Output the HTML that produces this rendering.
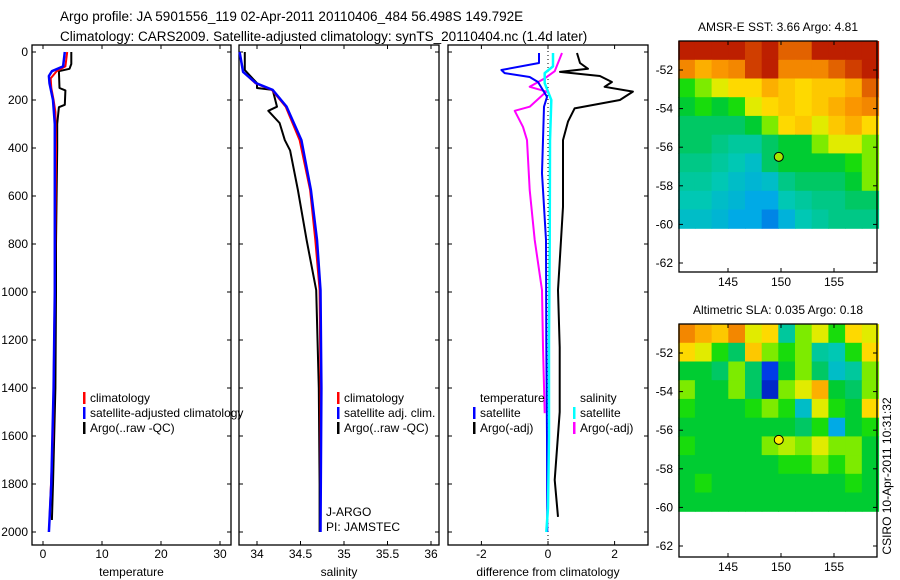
<!DOCTYPE html>
<html><head><meta charset="utf-8"><style>
body{margin:0;background:#fff;}
svg{display:block;font-family:"Liberation Sans",sans-serif;}
</style></head><body>
<svg id="fig" width="900" height="580" viewBox="0 0 900 580" xmlns="http://www.w3.org/2000/svg">
<text x="60" y="21" font-size="13.5">Argo profile: JA 5901556_119 02-Apr-2011 20110406_484 56.498S 149.792E</text>
<text x="60" y="41" font-size="13.5">Climatology: CARS2009. Satellite-adjusted climatology: synTS_20110404.nc (1.4d later)</text>
<g id="plots"></g>
</svg>
<script>
// ---- depth axis data ----
const depthTicks=[0,200,400,600,800,1000,1200,1400,1600,1800,2000];
// temperature panel
const tTicks=[0,10,20,30];
const tClimD=[0,60,80,110,150,200,250,400,1000,1600,1950];
const tClimV=[4.1,3.8,2.3,1.3,1.4,1.8,2.1,2.2,2.0,1.7,1.1];
const tSatD=[0,60,80,100,130,200,300,1000,1400,1800,2000];
const tSatV=[3.7,3.4,1.5,1.0,1.1,1.7,2.0,2.0,1.8,1.4,1.0];
const tArgoD=[0,50,70,80,150,160,220,230,300,400,800,1000,1400,1600,1800,1950];
const tArgoV=[4.8,4.8,4.5,2.7,2.8,3.8,3.7,2.7,2.4,2.4,2.2,2.2,2.1,1.9,1.7,1.5];
// salinity panel
const sTicks=[34,34.5,35,35.5,36];
const sTickLabels=["34","34.5","35","35.5","36"];
const sClimD=[0,83,130,158,228,367,575,783,992,1400,1950];
const sClimV=[33.80,33.84,33.98,34.17,34.33,34.49,34.61,34.67,34.72,34.73,34.73];
const sSatD=[0,83,130,158,228,367,575,783,992,1400,2000];
const sSatV=[33.80,33.84,33.99,34.18,34.34,34.51,34.62,34.69,34.73,34.74,34.73];
const sArgoD=[0,75,130,150,158,228,245,296,367,410,575,783,992,1400,1800,2000];
const sArgoV=[33.86,33.86,34.0,34.0,34.18,34.23,34.13,34.26,34.32,34.38,34.47,34.57,34.68,34.71,34.72,34.72];
// difference panel
const dTicks=[-2,0,2];
const dTSatD=[4,46,75,88,104,125,187,228,505,783,1200,1600,2000];
const dTSatV=[-0.27,-0.27,-1.4,-1.3,-0.55,-0.3,-0.03,-0.12,-0.18,-0.06,-0.05,-0.03,-0.02];
const dSSatD=[4,60,88,130,200,370,800,1200,1600,1900,2000];
const dSSatV=[0.15,0.15,-0.1,-0.1,0.1,0.06,0.05,0.03,0.03,0.0,-0.05];
const dSArgoD=[4,46,80,110,145,165,228,245,312,367,575,783,992,1230,1505];
const dSArgoV=[0.42,0.3,0.2,-0.1,-0.55,-0.05,-0.55,-1.0,-0.75,-0.63,-0.55,-0.4,-0.18,-0.15,-0.1];
const dTArgoD=[4,46,70,83,100,125,145,165,200,235,290,367,645,992,1230,1500,1783,1937];
const dTArgoV=[0.87,0.96,1.2,0.36,1.56,1.92,1.7,2.55,2.16,0.8,0.6,0.45,0.45,0.3,0.35,0.35,0.2,0.3];
// maps
const lonTicks=[145,150,155];
const latTicks=[-52,-54,-56,-58,-60,-62];
const sstGrid=[
[0.95,0.95,0.95,0.95,0.9,0.95,0.85,0.85,0.95,0.95,0.95,0.95],
[0.8,0.75,0.78,0.8,0.9,0.95,0.8,0.8,0.8,0.85,0.9,0.95],
[0.55,0.6,0.65,0.7,0.7,0.75,0.72,0.7,0.72,0.72,0.75,0.85],
[0.5,0.55,0.5,0.55,0.65,0.7,0.72,0.7,0.72,0.75,0.78,0.8],
[0.45,0.45,0.45,0.45,0.5,0.6,0.7,0.72,0.65,0.72,0.75,0.7],
[0.45,0.45,0.42,0.4,0.4,0.45,0.5,0.5,0.6,0.65,0.65,0.6],
[0.42,0.42,0.4,0.38,0.35,0.45,0.5,0.5,0.5,0.5,0.55,0.6],
[0.4,0.4,0.38,0.35,0.33,0.35,0.42,0.45,0.45,0.45,0.5,0.6],
[0.38,0.38,0.35,0.33,0.3,0.3,0.38,0.4,0.42,0.42,0.45,0.45],
[0.35,0.35,0.33,0.3,0.3,0.25,0.32,0.38,0.4,0.42,0.42,0.42]];
const slaGrid=[
[0.8,0.75,0.72,0.8,0.65,0.7,0.4,0.6,0.65,0.55,0.7,0.65],
[0.7,0.65,0.55,0.45,0.72,0.6,0.55,0.6,0.4,0.38,0.55,0.7],
[0.5,0.5,0.45,0.6,0.45,0.15,0.5,0.6,0.45,0.35,0.4,0.6],
[0.6,0.5,0.5,0.6,0.45,0.1,0.6,0.65,0.75,0.5,0.45,0.6],
[0.55,0.5,0.5,0.5,0.55,0.6,0.55,0.35,0.65,0.55,0.5,0.7],
[0.5,0.5,0.5,0.5,0.5,0.5,0.5,0.45,0.55,0.3,0.5,0.55],
[0.55,0.5,0.5,0.5,0.5,0.6,0.62,0.6,0.65,0.6,0.6,0.5],
[0.5,0.5,0.5,0.5,0.5,0.5,0.55,0.55,0.6,0.55,0.6,0.5],
[0.5,0.55,0.5,0.5,0.5,0.5,0.5,0.5,0.5,0.5,0.55,0.5],
[0.5,0.5,0.5,0.5,0.5,0.5,0.5,0.5,0.5,0.5,0.5,0.5]];
const argoLon=149.79, argoLat=-56.5;

const NS="http://www.w3.org/2000/svg";
const root=document.getElementById('plots');
function mk(tag,attrs,parent){const e=document.createElementNS(NS,tag);for(const k in attrs)e.setAttribute(k,attrs[k]);(parent||root).appendChild(e);return e;}
const yD=d=>52+0.24*d;
const PT=55, PB=545;

function panel(name,x0,x1,xs,ticks,labels,xlabel,showY){
  const g=mk('g',{});
  
  
  const r=mk('rect',{x:x0,y:PT-10,width:x1-x0,height:PB-PT+10,fill:'none',stroke:'#000','stroke-width':1.3},g);
  
  
  ticks.forEach((t,i)=>{const x=xs(t);
    mk('line',{x1:x,x2:x,y1:PT-10,y2:PT-6,stroke:'#000'},g);
    mk('line',{x1:x,x2:x,y1:PB,y2:PB-4,stroke:'#000'},g);
    const tx=mk('text',{x:x,y:558,'font-size':12,'text-anchor':'middle'},g);
    tx.textContent=labels[i];
    
    
  });
  depthTicks.forEach(d=>{const y=yD(d);
    mk('line',{x1:x0,x2:x0+4,y1:y,y2:y,stroke:'#000'},g);
    mk('line',{x1:x1,x2:x1-4,y1:y,y2:y,stroke:'#000'},g);
    if(showY){const t=mk('text',{x:28,y:y+4,'font-size':12,'text-anchor':'end'},g);t.textContent=d;
      
      }
  });
  const xl=mk('text',{x:(x0+x1)/2,y:576,'font-size':12,'text-anchor':'middle'},g);
  xl.textContent=xlabel;
  
  
  return g;
}
function line(g,D,V,xs,color,w,name){
  const pts=D.map((d,i)=>xs(V[i]).toFixed(1)+','+yD(d).toFixed(1)).join(' ');
  const p=mk('polyline',{points:pts,fill:'none',stroke:color,'stroke-width':w,'stroke-linejoin':'round'},g);
  
  
}
function legend(g,x,y,items){
  items.forEach((it,i)=>{
    if(it[0]) mk('rect',{x:x,y:y+i*15-10,width:2.5,height:12,fill:it[0]},g);
    const t=mk('text',{x:x+7,y:y+i*15,'font-size':12},g);t.textContent=it[1];
    
    
  });
}
// temperature
const xT=v=>43+5.9*v;
const g1=panel('temperature-panel',32,231,xT,tTicks,tTicks.map(String),'temperature',true);
line(g1,tArgoD,tArgoV,xT,'#000',2,'argo-temperature-line');
line(g1,tClimD,tClimV,xT,'#f00',2,'climatology-temperature-line');
line(g1,tSatD,tSatV,xT,'#00f',2.5,'satellite-temperature-line');
legend(g1,83,402,[['#f00','climatology'],['#00f','satellite-adjusted climatology'],['#000','Argo(..raw -QC)']]);
// salinity
const xS=v=>257+87*(v-34);
const g2=panel('salinity-panel',239,439,xS,sTicks,sTickLabels,'salinity',false);
line(g2,sArgoD,sArgoV,xS,'#000',2,'argo-salinity-line');
line(g2,sClimD,sClimV,xS,'#f00',2,'climatology-salinity-line');
line(g2,sSatD,sSatV,xS,'#00f',2.5,'satellite-salinity-line');
legend(g2,337,402,[['#f00','climatology'],['#00f','satellite adj. clim.'],['#000','Argo(..raw -QC)']]);
const ja=mk('text',{x:326,y:516,'font-size':12},g2);ja.textContent='J-ARGO';


const pi=mk('text',{x:326,y:531,'font-size':12},g2);pi.textContent='PI: JAMSTEC';


// difference
const xDf=v=>548+33.3*v;
const g3=panel('difference-panel',448,648,xDf,dTicks,dTicks.map(String),'difference from climatology',false);
mk('line',{x1:xDf(0),x2:xDf(0),y1:PT-8,y2:PB,stroke:'#000','stroke-dasharray':'1,3'},g3);
line(g3,dTArgoD,dTArgoV,xDf,'#000',2,'argo-temperature-diff-line');
line(g3,dSArgoD,dSArgoV,xDf,'#f0f',2,'argo-salinity-diff-line');
line(g3,dTSatD,dTSatV,xDf,'#00f',2,'satellite-temperature-diff-line');
line(g3,dSSatD,dSSatV,xDf,'#0ff',2.5,'satellite-salinity-diff-line');
legend(g3,473,402,[[null,'temperature'],['#00f','satellite'],['#000','Argo(-adj)']]);
legend(g3,573,402,[[null,'salinity'],['#0ff','satellite'],['#f0f','Argo(-adj)']]);

// colormap
const stops=[[0,[0,0,140]],[0.15,[0,60,230]],[0.3,[0,170,230]],[0.38,[0,200,180]],[0.45,[0,200,100]],[0.52,[0,205,30]],[0.57,[40,230,0]],[0.63,[210,240,0]],[0.69,[255,225,0]],[0.78,[250,150,0]],[0.88,[215,75,0]],[1,[170,0,0]]];
function cmap(v){for(let i=1;i<stops.length;i++){if(v<=stops[i][0]){const a=stops[i-1],b=stops[i],f=(v-a[0])/(b[0]-a[0]);return 'rgb('+a[1].map((c,k)=>Math.round(c+(b[1][k]-c)*f)).join(',')+')';}}return 'rgb(170,0,0)';}

function map(name,top,bottom,title,grid,dotColor,bottomLabels){
  const g=mk('g',{});
  
  
  const x0=679,x1=877;
  const lat0=-52, yLat0=top+29, dy=19.3;
  const yL=l=>yLat0+(lat0-l)*dy;
  const xL=l=>728+(l-145)*10.6;
  const lonW=140.3, lonE=159.2, latN=-50.5, latS=-60.2;
  const rows=grid.length, cols=grid[0].length;
  const cw=(xL(lonE)-xL(lonW))/cols, ch=(yL(latS)-yL(latN))/rows;
  grid.forEach((row,r)=>row.forEach((v,c)=>{
    mk('rect',{x:(xL(lonW)+c*cw).toFixed(1),y:(yL(latN)+r*ch).toFixed(1),width:(cw+0.6).toFixed(1),height:(ch+0.6).toFixed(1),fill:cmap(v)},g);
  }));
  mk('rect',{x:x0,y:top,width:x1-x0,height:bottom-top,fill:'none',stroke:'#000','stroke-width':1.3},g);
  lonTicks.forEach(l=>{const x=xL(l);
    mk('line',{x1:x,x2:x,y1:top,y2:top+4,stroke:'#000'},g);
    mk('line',{x1:x,x2:x,y1:bottom,y2:bottom-4,stroke:'#000'},g);
    if(bottomLabels){const t=mk('text',{x:x,y:bottom+14,'font-size':12,'text-anchor':'middle'},g);t.textContent=l;
      
      }
  });
  latTicks.forEach(l=>{const y=yL(l);
    mk('line',{x1:x0,x2:x0+4,y1:y,y2:y,stroke:'#000'},g);
    mk('line',{x1:x1,x2:x1-4,y1:y,y2:y,stroke:'#000'},g);
    const t=mk('text',{x:673,y:y+4,'font-size':12,'text-anchor':'end'},g);t.textContent=l;
    
    
  });
  const c=mk('circle',{cx:xL(argoLon),cy:yL(argoLat),r:4.5,fill:dotColor,stroke:'#000','stroke-width':1},g);
  
  
  const t=mk('text',{x:778,y:top-10,'font-size':12,'text-anchor':'middle'},g);t.textContent=title;
  
  
}
map('sst-map',41,272,'AMSR-E SST: 3.66 Argo: 4.81',sstGrid,'#a6e600',true);
map('sla-map',324,557,'Altimetric SLA: 0.035 Argo: 0.18',slaGrid,'#ffee00',true);
const cs=mk('text',{x:0,y:0,'font-size':12,'text-anchor':'middle',transform:'translate(891,476) rotate(-90)'});
cs.textContent='CSIRO 10-Apr-2011 10:31:32';


</script>
</body></html>
